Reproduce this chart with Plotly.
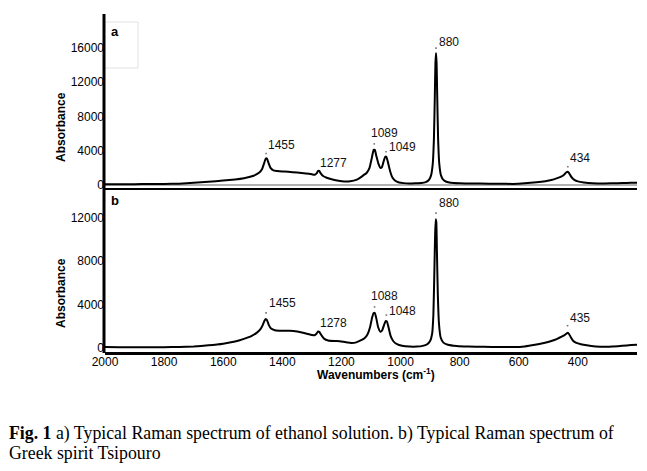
import plotly.graph_objects as go

# ---------------- data ----------------
wn_a = [2000, 1950, 1900, 1850, 1800, 1750, 1700, 1650, 1600, 1560, 1530, 1500, 1485, 1475, 1468, 1462,
        1456, 1452, 1447, 1440, 1430, 1410, 1380, 1350, 1320, 1300, 1290, 1284, 1279, 1275, 1270, 1262,
        1250, 1230, 1210, 1190, 1170, 1150, 1135, 1125, 1115, 1105, 1097, 1091, 1087, 1082, 1075, 1068,
        1063, 1057, 1052, 1048, 1043, 1036, 1028, 1018, 1005, 990, 970, 950, 930, 915, 905, 897, 891,
        887, 884, 882, 880, 878, 876, 873, 869, 863, 855, 845, 830, 800, 760, 700, 650, 620, 580, 540,
        510, 490, 470, 455, 447, 440, 435, 431, 426, 420, 412, 400, 380, 350, 320, 280, 250, 220, 200]
abs_a = [100, 100, 100, 110, 120, 150, 250, 380, 520, 650, 800, 1050, 1300, 1550, 1900, 2500,
         3100, 3100, 2600, 2000, 1700, 1600, 1550, 1450, 1350, 1250, 1200, 1350, 1650, 1650, 1350, 1050,
         850, 650, 500, 420, 450, 600, 900, 1150, 1400, 2000, 3200, 4100, 4100, 3400, 2500, 2000,
         2100, 2800, 3300, 3300, 2700, 1700, 900, 500, 300, 220, 180, 200, 230, 330, 550, 1100, 2500,
         5500, 10500, 14200, 15400, 14200, 10500, 5500, 2500, 1100, 600, 380, 260, 200, 170, 160, 140, 130, 200, 320,
         450, 580, 800, 1000, 1200, 1450, 1550, 1450, 1150, 850, 600, 420, 300, 200, 170, 200, 220, 260, 260]

wn_b = [2000, 1950, 1900, 1850, 1800, 1750, 1700, 1650, 1600, 1560, 1530, 1505, 1485, 1474, 1466, 1460,
        1456, 1452, 1446, 1438, 1425, 1400, 1375, 1350, 1320, 1300, 1290, 1284, 1279, 1275, 1268, 1258,
        1245, 1225, 1205, 1185, 1165, 1150, 1135, 1122, 1112, 1103, 1096, 1091, 1087, 1082, 1076, 1068,
        1062, 1055, 1050, 1046, 1041, 1034, 1025, 1012, 995, 970, 945, 925, 910, 900, 893, 889, 886,
        883, 881, 879, 877, 874, 870, 864, 855, 840, 810, 770, 720, 660, 620, 580, 545, 515, 490, 470,
        455, 445, 438, 434, 430, 424, 417, 405, 390, 370, 340, 310, 280, 250, 220, 200]
abs_b = [50, 30, 20, 20, 30, 50, 100, 200, 350, 550, 800, 1050, 1400, 1700, 2100, 2500,
         2650, 2550, 2100, 1750, 1600, 1550, 1550, 1480, 1300, 1150, 1150, 1300, 1480, 1450, 1150, 800,
         650, 600, 580, 480, 420, 470, 650, 850, 1200, 1900, 2800, 3200, 3200, 2700, 1900, 1450,
         1600, 2150, 2450, 2400, 1900, 1100, 600, 300, 150, 80, 80, 150, 300, 600, 1300, 3000, 6500,
         10500, 11900, 11600, 9000, 5000, 2200, 900, 450, 250, 130, 80, 60, 40, 40, 100, 250, 420, 600, 800,
         1000, 1150, 1300, 1370, 1250, 950, 650, 420, 300, 200, 100, 60, 100, 150, 220, 250]

peaks_a_x = [1455, 1277, 1089, 1049, 880, 434]
peaks_a_y = [3100, 1650, 4100, 3300, 15400, 1550]
peaks_a_labels = ["1455", "1277", "1089", "1049", "880", "434"]

peaks_b_x = [1455, 1278, 1088, 1048, 880, 435]
peaks_b_y = [2650, 1480, 3200, 2450, 11900, 1370]
peaks_b_labels = ["1455", "1278", "1088", "1048", "880", "435"]

x_ticks = [2000, 1800, 1600, 1400, 1200, 1000, 800, 600, 400]
ya_ticks = [0, 4000, 8000, 12000, 16000]
yb_ticks = [0, 4000, 8000, 12000]

caption_bold = "Fig. 1"
caption_line1 = " a) Typical Raman spectrum of ethanol solution. b) Typical Raman spectrum of"
caption_line2 = "Greek spirit Tsipouro"

# ---------------- layout geometry (pixels) ----------------
W, H = 647, 471
L, R, T, B = 105, 637, 24, 352
pw, ph = R - L, B - T

def px(x):
    return (x - L) / pw

def py(y):
    return (B - y) / ph

# label styles: (anchor, dx, dy) per label; dy = pixels above peak
style_a = [("left", 0, 13), ("left", -1, 8), ("center", 10, 17), ("left", 1, 10), ("left", 1, 11), ("left", 0, 14)]
style_b = [("left", 1, 16), ("left", 0, 9), ("center", 10, 17), ("left", 1, 10), ("left", 1, 16), ("left", 0, 15)]
dots_a = [5, None, 6, 5, 5, 5]
dots_b = [6, None, 6, 6, 6, 7]

fig = go.Figure()
line_style = dict(color="black", width=2, shape="spline", smoothing=0.4)
fig.add_trace(go.Scatter(x=wn_a, y=abs_a, mode="lines", line=line_style, xaxis="x", yaxis="y",
                         showlegend=False, hoverinfo="skip"))
fig.add_trace(go.Scatter(x=wn_b, y=abs_b, mode="lines", line=line_style, xaxis="x2", yaxis="y2",
                         showlegend=False, hoverinfo="skip"))

annots = []
shapes = []
for xs, ys, labs, st, dts, xr, yr in [(peaks_a_x, peaks_a_y, peaks_a_labels, style_a, dots_a, "x", "y"),
                                      (peaks_b_x, peaks_b_y, peaks_b_labels, style_b, dots_b, "x2", "y2")]:
    for xv, yv, lab, (anc, dx, dy), dd in zip(xs, ys, labs, st, dts):
        annots.append(dict(x=xv, y=yv, xref=xr, yref=yr, text=lab, showarrow=False,
                           xanchor=anc, yanchor="middle", xshift=dx, yshift=dy,
                           font=dict(family="Arial, Liberation Sans", size=12, color="#111")))
        if dd is not None:
            shapes.append(dict(type="rect", xref=xr, yref=yr, xsizemode="pixel", ysizemode="pixel",
                               xanchor=xv, yanchor=yv, x0=-0.8, x1=0.8, y0=dd - 0.8, y1=dd + 0.8,
                               fillcolor="#777", line=dict(width=0)))

# panel letters
annots.append(dict(x=px(109), y=py(31), xref="paper", yref="paper", text="<b>a</b>", showarrow=False,
                   xanchor="left", yanchor="middle", font=dict(family="Arial, Liberation Sans", size=13, color="black")))
annots.append(dict(x=px(109), y=py(200), xref="paper", yref="paper", text="<b>b</b>", showarrow=False,
                   xanchor="left", yanchor="middle", font=dict(family="Arial, Liberation Sans", size=13, color="black")))
# y titles
for yc in (127, 293):
    annots.append(dict(x=px(61), y=py(yc), xref="paper", yref="paper", text="<b>Absorbance</b>",
                       showarrow=False, textangle=-90, xanchor="center", yanchor="middle",
                       font=dict(family="Arial, Liberation Sans", size=12, color="black")))
# x title
annots.append(dict(x=px(376), y=py(374), xref="paper", yref="paper",
                   text="<b>Wavenumbers (cm<sup>-1</sup>)</b>", showarrow=False,
                   xanchor="center", yanchor="middle",
                   font=dict(family="Arial, Liberation Sans", size=12, color="black")))
# caption
cap_font = dict(family="Liberation Serif, Times New Roman, serif", size=17.8, color="black")
annots.append(dict(x=px(7), y=py(433), xref="paper", yref="paper",
                   text="<b>" + caption_bold + "</b>" + caption_line1, showarrow=False,
                   xanchor="left", yanchor="middle", font=cap_font))
annots.append(dict(x=px(7), y=py(453), xref="paper", yref="paper",
                   text=caption_line2, showarrow=False,
                   xanchor="left", yanchor="middle", font=cap_font))

shapes += [
    # light box around panel label a
    dict(type="rect", xref="paper", yref="paper", x0=px(104), x1=px(138), y0=py(68), y1=py(22),
         line=dict(color="#e2e2e2", width=1)),
    # continuous left axis line
    dict(type="line", xref="paper", yref="paper", x0=px(104), x1=px(104), y0=py(353), y1=py(14),
         line=dict(color="black", width=3)),
]

tick_font = dict(family="Arial, Liberation Sans", size=12, color="black")
fig.update_layout(
    width=W, height=H,
    margin=dict(l=L, r=W - R, t=T, b=H - B),
    paper_bgcolor="white", plot_bgcolor="white",
    annotations=annots, shapes=shapes,
    xaxis=dict(domain=[0, 1], range=[2000, 200], anchor="y", showticklabels=False, ticks="",
               showgrid=False, zeroline=False, showline=True, linecolor="black", linewidth=2),
    yaxis=dict(domain=[py(188), 1], range=[-350, 18800], tickvals=ya_ticks, tickformat="d", ticks="",
               showgrid=False, zeroline=True, zerolinecolor="#b0b0b0", zerolinewidth=2,
               showline=False, tickfont=tick_font, anchor="x"),
    xaxis2=dict(domain=[0, 1], range=[2000, 200], anchor="y2", tickvals=x_ticks, ticks="",
                ticklabelstandoff=-3,
                showgrid=False, zeroline=False, showline=True, linecolor="black", linewidth=3,
                tickfont=tick_font),
    yaxis2=dict(domain=[0, py(192)], range=[-420, 14420], tickvals=yb_ticks, tickformat="d", ticks="",
                showgrid=False, zeroline=False, showline=False, tickfont=tick_font, anchor="x2"),
)

fig.write_html("out.html", config={"displayModeBar": False},
               post_script="document.body.style.margin='0px';")
